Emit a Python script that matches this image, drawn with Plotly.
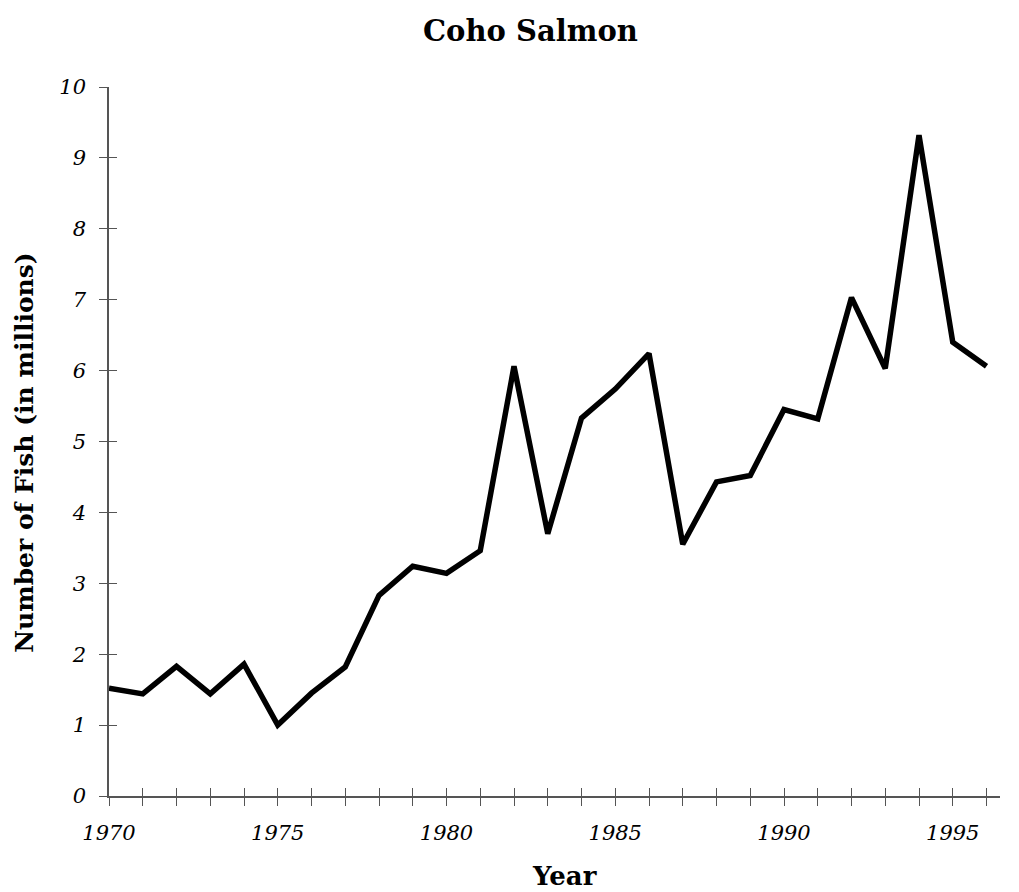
import plotly.graph_objects as go

years = list(range(1970, 1997))
fish_millions = [1.52, 1.44, 1.83, 1.44, 1.86, 1.00, 1.45, 1.82, 2.83, 3.24, 3.14, 3.46,
                 6.06, 3.70, 5.33, 5.74, 6.24, 3.55, 4.43, 4.52, 5.45, 5.32, 7.03, 6.03,
                 9.32, 6.40, 6.06]
x_label_years = [1970, 1975, 1980, 1985, 1990, 1995]
y_ticks = list(range(0, 11))

title_text = "Coho Salmon"
x_title = "Year"
y_title = "Number of Fish (in millions)"

serif = "DejaVu Serif"
axis_col = "#555555"

x_ticktext = [str(y) if y in x_label_years else "" for y in years]

fig = go.Figure()
fig.add_trace(go.Scatter(x=years, y=fish_millions, mode="lines",
                         line=dict(color="black", width=5.5), showlegend=False,
                         hoverinfo="x+y"))
fig.add_trace(go.Scatter(x=years, y=fish_millions, mode="lines", xaxis="x2", yaxis="y2",
                         line=dict(color="rgba(0,0,0,0)", width=0), showlegend=False,
                         hoverinfo="skip"))

xr = [1970, 1996.4]
yr = [0, 10]

fig.update_layout(
    width=1019, height=892,
    paper_bgcolor="white", plot_bgcolor="white",
    margin=dict(l=101, r=27, t=79, b=104),
    xaxis=dict(range=xr, tickvals=years, ticktext=x_ticktext, ticks="outside", ticklen=8,
               tickwidth=1, tickcolor=axis_col, showline=True, linecolor=axis_col, linewidth=1.5,
               showgrid=False, zeroline=False, automargin=False, ticklabelstandoff=9,
               tickfont=dict(family=serif, size=21, color="black", style="italic")),
    yaxis=dict(range=yr, tickvals=y_ticks, ticks="outside", ticklen=8,
               tickwidth=1, tickcolor=axis_col, showline=True, linecolor=axis_col, linewidth=1.5,
               showgrid=False, zeroline=False, automargin=False, ticklabelstandoff=9,
               tickfont=dict(family=serif, size=21, color="black", style="italic")),
    xaxis2=dict(range=xr, overlaying="x", tickvals=years, ticks="inside", ticklen=8,
                tickwidth=1, tickcolor=axis_col, showticklabels=False, showline=False,
                showgrid=False, zeroline=False),
    yaxis2=dict(range=yr, overlaying="y", tickvals=y_ticks, ticks="inside", ticklen=8,
                tickwidth=1, tickcolor=axis_col, showticklabels=False, showline=False,
                showgrid=False, zeroline=False),
    annotations=[
        dict(text=title_text, xref="paper", yref="paper", x=0.4736, y=1, yshift=56,
             xanchor="center", yanchor="middle", showarrow=False,
             font=dict(family=serif, size=29, color="black", weight="bold")),
        dict(text=x_title, xref="paper", yref="paper", x=0.511, y=0, yshift=-80,
             xanchor="center", yanchor="middle", showarrow=False,
             font=dict(family=serif, size=26, color="black", weight="bold")),
        dict(text=y_title, xref="paper", yref="paper", x=0, xshift=-84, y=0.484,
             xanchor="center", yanchor="middle", showarrow=False, textangle=-90,
             font=dict(family=serif, size=25, color="black", weight="bold")),
    ],
)

fig.write_html("out.html")
